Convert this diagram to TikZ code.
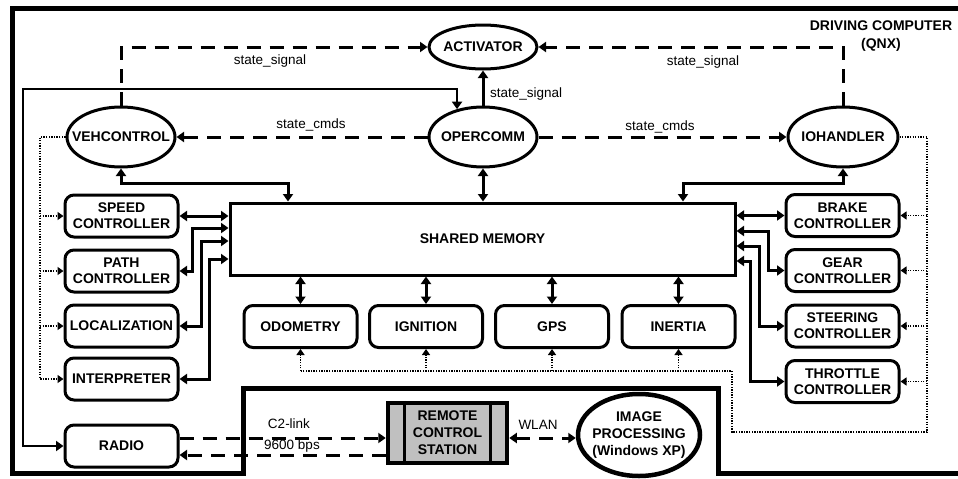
\documentclass[tikz,border=0pt]{standalone}
\usepackage{fontspec}
\setmainfont{Liberation Sans}
\usetikzlibrary{arrows.meta,shapes.geometric,calc}
\definecolor{stgrey}{HTML}{C0C0C0}
\begin{document}
\begin{tikzpicture}[x=1pt,y=-1pt,
  >={Triangle[length=7.5pt,width=10pt]},
  lbl/.style={font=\fontsize{13.5}{16}\selectfont, inner sep=0pt},
  bf/.style={font=\fontsize{14}{16}\selectfont\bfseries},
  ell/.style={draw, ellipse, line width=3pt, minimum width=108pt, minimum height=60pt, inner sep=0pt, bf},
  rbox/.style={draw, rectangle, rounded corners=9pt, line width=3pt, minimum width=113pt, minimum height=42pt, inner sep=0pt, align=center, bf},
  solidc/.style={line width=3pt},
  thinc/.style={line width=2pt},
  dashc/.style={line width=3pt, dash pattern=on 14pt off 9pt},
  dotc/.style={line width=1.3pt, dash pattern=on 1.3pt off 1.3pt, >={Triangle[length=6pt,width=8pt]}},
]
\useasboundingbox (0,0) rectangle (958,479);
% outer frame
\draw[line width=5pt] (958,8) -- (12,8) -- (12,473) -- (243,473) -- (243,388) -- (718,388) -- (718,473) -- (958,473);
% title
\node[font=\fontsize{14}{18}\selectfont\bfseries, align=center, inner sep=0pt] (title) at (881,36) {DRIVING COMPUTER\\(QNX)};

% ellipses
\node[ell, minimum height=44pt] (act) at (483,47) {\makebox[0pt]{ACTIVATOR}};
\node[ell] (veh) at (121,137) {\makebox[0pt]{VEHCONTROL}};
\node[ell] (opc) at (483,137) {\makebox[0pt]{OPERCOMM}};
\node[ell, minimum width=110pt] (ioh) at (843,137) {\makebox[0pt]{IOHANDLER}};

% shared memory
\node[draw, line width=3pt, minimum width=505pt, minimum height=72pt, inner sep=0pt, bf] (shm) at (482.5,239) {SHARED MEMORY};

% left boxes
\node[rbox] (speed) at (121.5,216) {SPEED\\CONTROLLER};
\node[rbox] (path) at (121.5,271) {PATH\\CONTROLLER};
\node[rbox] (loc) at (121.5,326) {LOCALIZATION};
\node[rbox] (interp) at (121.5,379) {INTERPRETER};
\node[rbox] (radio) at (121.5,446) {RADIO};
% right boxes
\node[rbox] (brake) at (842.5,215.5) {BRAKE\\CONTROLLER};
\node[rbox] (gear) at (842.5,270.5) {GEAR\\CONTROLLER};
\node[rbox] (steer) at (842.5,326) {STEERING\\CONTROLLER};
\node[rbox] (throt) at (842.5,381.5) {THROTTLE\\CONTROLLER};
% bottom boxes
\node[rbox] (odo) at (300.5,326.5) {ODOMETRY};
\node[rbox] (ign) at (426,326.5) {IGNITION};
\node[rbox] (gps) at (552,326.5) {GPS};
\node[rbox] (inert) at (678.5,326.5) {INERTIA};

% remote control station
\node[draw, line width=4.5pt, fill=stgrey, minimum width=119pt, minimum height=60pt, inner sep=0pt, align=center, font=\fontsize{14}{17}\selectfont\bfseries] (rcs) at (447.5,433) {REMOTE\\CONTROL\\STATION};
\draw[line width=3pt] ($(rcs.north west)+(19,0)$) -- ($(rcs.south west)+(19,0)$);
\draw[line width=3pt] ($(rcs.north east)+(-19,0)$) -- ($(rcs.south east)+(-19,0)$);
% image processing
\node[draw, ellipse, line width=4.5pt, minimum width=122pt, minimum height=82pt, inner sep=0pt, bf] (img) at (639,435) {\makebox[0pt]{\fontsize{14}{17}\selectfont\bfseries\begin{tabular}{@{}c@{}}IMAGE\\PROCESSING\\(Windows XP)\end{tabular}}};

% coordinates
\coordinate (rl1) at (23,89);
\coordinate (vb) at (288,183);
\coordinate (ib) at (683,183);
\coordinate (pk) at (192,228);
\coordinate (lk) at (201,241);
\coordinate (ik) at (209,259);
\coordinate (gk) at (768,231);
\coordinate (sk) at (759,246);
\coordinate (tk) at (750,261);
\coordinate (dr) at (927,432);
\coordinate (dl) at (732,371);
\coordinate (lx) at (40,137);
\coordinate (r1) at (0,438);
\coordinate (r2) at (0,455);

% dashed state signals
\draw[dashc,->] (veh.north) -- (veh.north |- act.west) -- (act.west);
\draw[dashc,->] (ioh.north) -- (ioh.north |- act.east) -- (act.east);
\draw[solidc,->] (opc.north) -- (act.south);
\draw[dashc,->] (opc.west) -- (veh.east);
\draw[dashc,->] (opc.east) -- (ioh.west);
% radio loop
\draw[thinc,<->] (radio.west) -| (rl1) -| (opc.133);
% ellipses to shared memory
\draw[solidc,<->] (veh.south) |- (vb) -- (vb |- shm.north);
\draw[solidc,<->] (ioh.south) |- (ib) -- (ib |- shm.north);
\draw[solidc,<->] (opc.south) -- (opc.south |- shm.north);
% left boxes to shared memory
\draw[solidc,<->] (speed.east) -- (speed.east -| shm.west);
\draw[solidc,<->] (path.east) -| (pk) -- (pk -| shm.west);
\draw[solidc,<->] (loc.east) -| (lk) -- (lk -| shm.west);
\draw[solidc,<->] (interp.east) -| (ik) -- (ik -| shm.west);
% right boxes to shared memory
\draw[solidc,<->] (brake.west) -- (brake.west -| shm.east);
\draw[solidc,<->] (gear.west) -| (gk) -- (gk -| shm.east);
\draw[solidc,<->] (steer.west) -| (sk) -- (sk -| shm.east);
\draw[solidc,<->] (throt.west) -| (tk) -- (tk -| shm.east);
% bottom boxes
\draw[solidc,<->] (odo.north |- shm.south) -- (odo.north);
\draw[solidc,<->] (ign.north |- shm.south) -- (ign.north);
\draw[solidc,<->] (gps.north |- shm.south) -- (gps.north);
\draw[solidc,<->] (inert.north |- shm.south) -- (inert.north);
% dotted network from IOHANDLER
\draw[dotc] (ioh.east) -| (dr) -| (dl) -- (dl -| odo.south);
\draw[dotc,->] (brake.east -| dr) -- (brake.east);
\draw[dotc,->] (gear.east -| dr) -- (gear.east);
\draw[dotc,->] (steer.east -| dr) -- (steer.east);
\draw[dotc,->] (throt.east -| dr) -- (throt.east);
\draw[dotc,->] (odo.south |- dl) -- (odo.south);
\draw[dotc,->] (ign.south |- dl) -- (ign.south);
\draw[dotc,->] (gps.south |- dl) -- (gps.south);
\draw[dotc,->] (inert.south |- dl) -- (inert.south);
% dotted network from VEHCONTROL
\draw[dotc,->] (veh.west) -| (lx |- interp.west) -- (interp.west);
\draw[dotc,->] (lx |- speed.west) -- (speed.west);
\draw[dotc,->] (lx |- path.west) -- (path.west);
\draw[dotc,->] (lx |- loc.west) -- (loc.west);
% radio to station
\draw[dashc,->] (radio.east |- r1) -- (rcs.west |- r1);
\draw[dashc,->] (rcs.west |- r2) -- (radio.east |- r2);
\draw[dashc,<->] (rcs.east |- r1) -- (img.west |- r1);

% labels
\node[lbl] (l1) at (270,61) {state\_signal};
\node[lbl] (l2) at (703,62) {state\_signal};
\node[lbl, anchor=west] (l3) at (490,94) {state\_signal};
\node[lbl] (l4) at (311,125) {state\_cmds};
\node[lbl] (l5) at (660,127) {state\_cmds};
\node[lbl] (l6) at (289,424) {C2-link};
\node[lbl] (l7) at (292,446) {9600 bps};
\node[lbl] (l8) at (538,425) {WLAN};
\end{tikzpicture}
\end{document}
